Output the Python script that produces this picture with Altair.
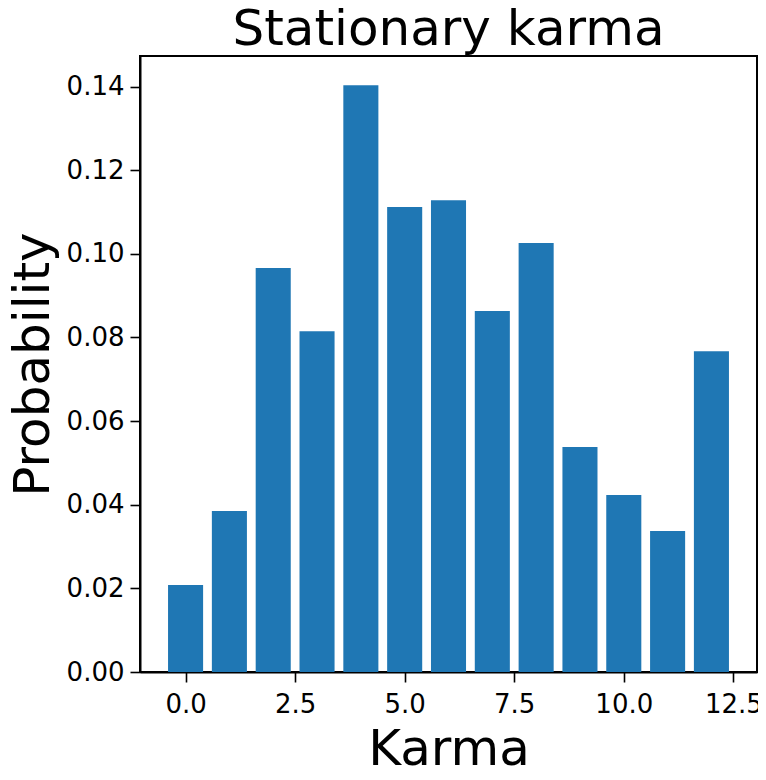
import altair as alt
import pandas as pd

karma = list(range(13))
prob = [0.0208, 0.0385, 0.0966, 0.0815, 0.1403, 0.1112, 0.1128,
        0.0863, 0.1026, 0.0538, 0.0423, 0.0337, 0.0767]
x_ticks = [0.0, 2.5, 5.0, 7.5, 10.0, 12.5]
y_ticks = [0.00, 0.02, 0.04, 0.06, 0.08, 0.10, 0.12, 0.14]

df = pd.DataFrame({"karma": karma, "prob": prob})

FONT = "DejaVu Sans"

chart = (
    alt.Chart(df)
    .transform_calculate(lo="datum.karma - 0.4", hi="datum.karma + 0.4")
    .mark_bar(color="#1f77b4")
    .encode(
        x=alt.X("lo:Q", scale=alt.Scale(domain=[-1.04, 13.04], nice=False, zero=False),
                axis=alt.Axis(values=x_ticks, format=".1f", title="Karma", grid=False)),
        x2="hi:Q",
        y=alt.Y("prob:Q", scale=alt.Scale(domain=[0, 0.1473], nice=False),
                axis=alt.Axis(values=y_ticks, format=".2f", title="Probability", grid=False)),
        y2=alt.datum(0),
    )
    .properties(
        width=617, height=616,
        title=alt.TitleParams("Stationary karma", font=FONT, fontSize=50,
                              fontWeight="normal", color="black", offset=1),
        autosize=alt.AutoSizeParams(type="none"),
        padding={"left": 132, "top": 48, "right": 1, "bottom": 100},
    )
    .configure_view(stroke="black", strokeWidth=2)
    .configure_axis(
        domainColor="black", domainWidth=2, tickColor="black", tickWidth=1.6,
        tickSize=10, labelFont=FONT, labelFontSize=26, labelColor="black",
        labelPadding=6, titleFont=FONT, titleFontSize=50, titleFontWeight="normal",
        titleColor="black",
    )
    .configure_axisX(titlePadding=7, labelPadding=9, labelFlush=False)
    .configure_axisY(titlePadding=8, labelFlush=False)
)

chart.save("out.html", embed_options={"renderer": "svg", "actions": False})
